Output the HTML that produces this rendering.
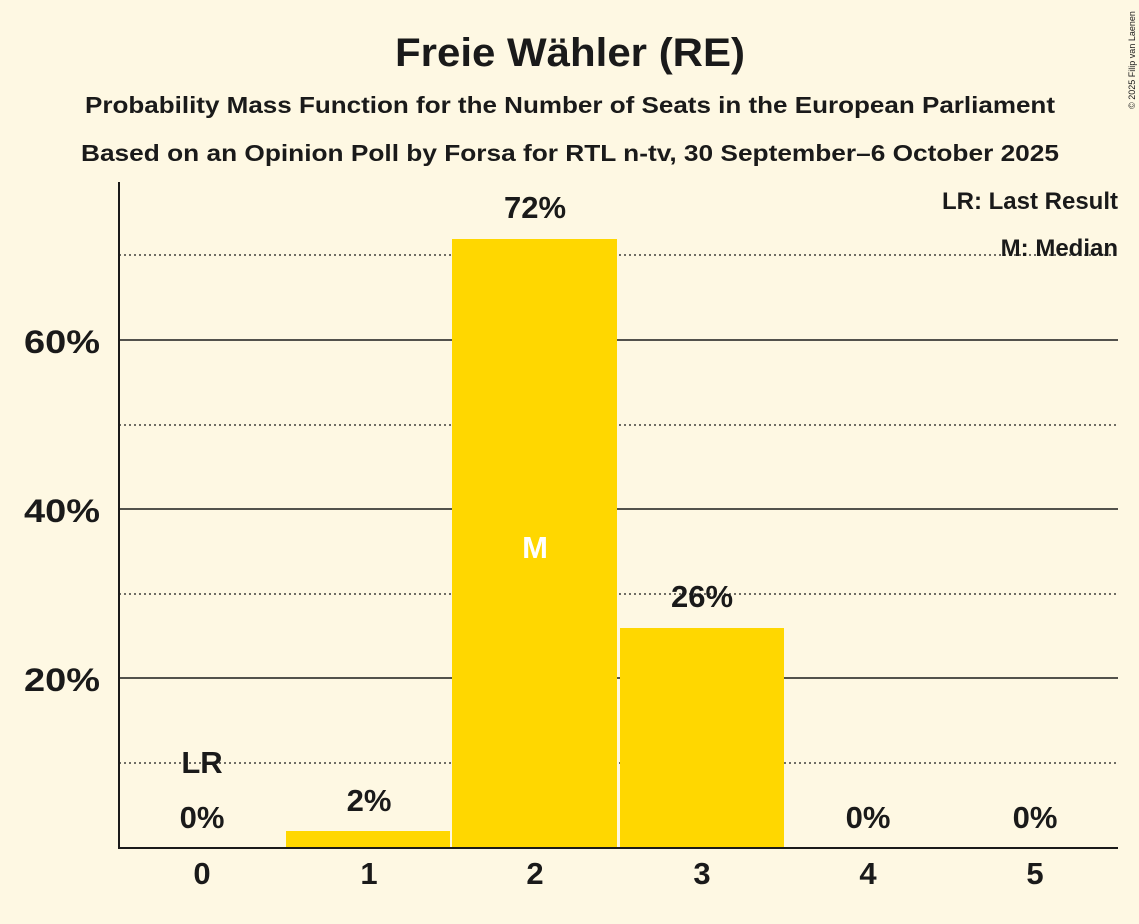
<!DOCTYPE html>
<html><head><meta charset="utf-8"><style>
body{margin:0;background:#fef8e3;}
svg{display:block}
text{font-family:"Liberation Sans",sans-serif;font-weight:bold;fill:#1a1a1a}
</style></head><body>
<svg width="1139" height="924" viewBox="0 0 1139 924">
<rect width="1139" height="924" fill="#fef8e3"/>
<text x="570" y="66" font-size="40" text-anchor="middle" textLength="350" lengthAdjust="spacingAndGlyphs">Freie Wähler (RE)</text>
<text x="570" y="113" font-size="23" text-anchor="middle" textLength="970" lengthAdjust="spacingAndGlyphs">Probability Mass Function for the Number of Seats in the European Parliament</text>
<text x="570" y="161" font-size="23" text-anchor="middle" textLength="978" lengthAdjust="spacingAndGlyphs">Based on an Opinion Poll by Forsa for RTL n-tv, 30 September–6 October 2025</text>
<text transform="translate(1135,60) rotate(-90)" font-size="9" text-anchor="middle" style="font-weight:normal">© 2025 Filip van Laenen</text>
<g stroke="#1a1a1a" stroke-width="1.5">
<line x1="119" y1="678" x2="1118" y2="678"/>
<line x1="119" y1="509" x2="1118" y2="509"/>
<line x1="119" y1="340" x2="1118" y2="340"/>
</g>
<g stroke="#1a1a1a" stroke-width="1.2" stroke-dasharray="2,3">
<line x1="119" y1="763" x2="1118" y2="763"/>
<line x1="119" y1="594" x2="1118" y2="594"/>
<line x1="119" y1="425" x2="1118" y2="425"/>
<line x1="119" y1="255" x2="1118" y2="255"/>
</g>
<rect x="286" y="831" width="164" height="17" fill="#ffd700"/>
<rect x="452" y="239" width="165" height="609" fill="#ffd700"/>
<rect x="620" y="628" width="164" height="220" fill="#ffd700"/>
<line x1="119" y1="182" x2="119" y2="849" stroke="#1a1a1a" stroke-width="2"/>
<line x1="118" y1="848" x2="1118" y2="848" stroke="#1a1a1a" stroke-width="2"/>
<g font-size="32" text-anchor="end">
<text x="100" y="691" textLength="76" lengthAdjust="spacingAndGlyphs">20%</text>
<text x="100" y="522" textLength="76" lengthAdjust="spacingAndGlyphs">40%</text>
<text x="100" y="353" textLength="76" lengthAdjust="spacingAndGlyphs">60%</text>
</g>
<g font-size="31" text-anchor="middle">
<text x="202" y="884">0</text>
<text x="369" y="884">1</text>
<text x="535" y="884">2</text>
<text x="702" y="884">3</text>
<text x="868" y="884">4</text>
<text x="1035" y="884">5</text>
<text x="202" y="828">0%</text>
<text x="369" y="811">2%</text>
<text x="535" y="218">72%</text>
<text x="702" y="607">26%</text>
<text x="868" y="828">0%</text>
<text x="1035" y="828">0%</text>
<text x="202" y="773">LR</text>
<text x="535" y="558" style="fill:#fff">M</text>
</g>
<g font-size="24" text-anchor="end">
<text x="1118" y="209">LR: Last Result</text>
<text x="1118" y="256">M: Median</text>
</g>
</svg>
</body></html>
